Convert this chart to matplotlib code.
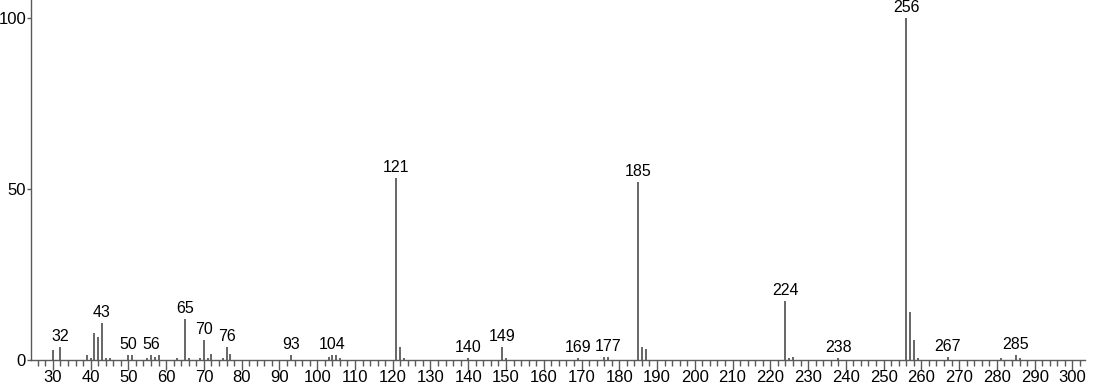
import matplotlib
matplotlib.use("Agg")
import matplotlib.pyplot as plt
from matplotlib.ticker import MultipleLocator

plt.rcParams['font.family'] = ['Liberation Sans', 'DejaVu Sans']

# m/z and relative intensity (%)
mz = [30, 32, 39, 40, 41, 42, 43, 44, 45, 50, 51, 55, 56, 57, 58, 63, 65, 66,
      69, 70, 71, 72, 75, 76, 77, 93, 103, 104, 105, 106, 121, 122, 123, 140,
      149, 150, 169, 176, 177, 185, 186, 187, 224, 225, 226, 238, 256, 257,
      258, 259, 267, 281, 285, 286]
inten = [2.9, 3.9, 1.6, 0.6, 7.9, 6.8, 10.9, 0.6, 0.6, 1.6, 1.5, 0.6, 1.4, 0.8,
         1.6, 0.6, 12.1, 0.6, 0.6, 5.8, 0.6, 1.8, 0.6, 3.9, 1.8, 1.5, 0.8, 1.5,
         1.5, 0.6, 53.2, 3.9, 0.6, 0.6, 3.9, 0.6, 0.6, 0.8, 0.8, 52.0, 3.9, 3.1,
         17.3, 0.6, 0.8, 0.6, 100.0, 14.0, 5.8, 0.6, 0.8, 0.6, 1.5, 0.6]
labeled = [32, 43, 50, 56, 65, 70, 76, 93, 104, 121, 140, 149, 169, 177, 185,
           224, 238, 256, 267, 285]

fig = plt.figure(figsize=(10.94, 3.84), dpi=100)
ax = fig.add_axes([0.0283, 0.0625, 0.9637, 0.9375])

col = '#5a5a5a'
ax.vlines(mz, 0, inten, color=col, lw=1.3)

for m, h in zip(mz, inten):
    if m in labeled:
        ax.annotate(str(m), (m, h), xytext=(0, 2), textcoords='offset points',
                    ha='center', va='bottom', fontsize=11.5)

ax.set_xlim(24.2, 303.4)
ax.set_ylim(0, 105.3)
ax.xaxis.set_minor_locator(MultipleLocator(2))
ax.set_xticks(range(30, 301, 10))
ax.set_yticks([0, 50, 100])
ax.tick_params(axis='x', which='major', length=7, width=1, color=col,
               labelsize=12, pad=0)
ax.tick_params(axis='x', which='minor', length=4, width=1, color=col)
ax.tick_params(axis='y', which='major', length=3, width=1, color=col,
               labelsize=12, pad=0.5)

for s in ['top', 'right']:
    ax.spines[s].set_visible(False)
for s in ['left', 'bottom']:
    ax.spines[s].set_color(col)
    ax.spines[s].set_linewidth(1)

fig.savefig('out.png', dpi=100)
